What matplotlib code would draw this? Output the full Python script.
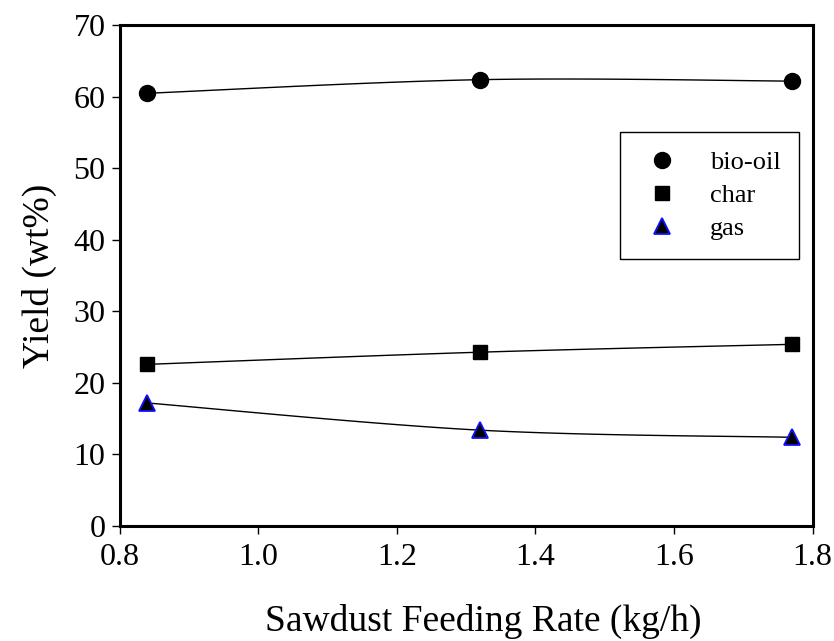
import numpy as np
import matplotlib
matplotlib.use("Agg")
import matplotlib.pyplot as plt
from matplotlib.lines import Line2D

plt.rcParams['font.family'] = ['Liberation Serif', 'DejaVu Serif']

# data
feed_rate = [0.84, 1.32, 1.77]
bio_oil = [60.5, 62.4, 62.2]
char = [22.6, 24.3, 25.4]
gas = [17.2, 13.4, 12.4]


def smooth_curve(x, y, n=60):
    """Excel-style smoothed line (Bezier through points, Catmull-Rom controls)."""
    pts = np.column_stack([x, y]).astype(float)
    padded = np.vstack([pts[0], pts, pts[-1]])
    out = []
    t = np.linspace(0, 1, n)[:, None]
    for i in range(1, len(padded) - 2):
        p0, p1, p2, p3 = padded[i - 1], padded[i], padded[i + 1], padded[i + 2]
        c1 = p1 + (p2 - p0) / 6
        c2 = p2 - (p3 - p1) / 6
        seg = ((1 - t) ** 3) * p1 + 3 * ((1 - t) ** 2) * t * c1 + 3 * (1 - t) * t ** 2 * c2 + t ** 3 * p2
        out.append(seg)
    curve = np.vstack(out)
    return curve[:, 0], curve[:, 1]


fig = plt.figure(figsize=(8.34, 6.41), dpi=100)
ax = fig.add_axes([0.1433, 0.1794, 0.8311, 0.7811])

for ys in (bio_oil, char, gas):
    cx, cy = smooth_curve(feed_rate, ys)
    ax.plot(cx, cy, color='black', lw=1.0, zorder=2)

ax.plot(feed_rate, bio_oil, 'o', ms=11.5, color='black', zorder=3)
ax.plot(feed_rate, char, 's', ms=10.5, color='black', zorder=3)
ax.plot(feed_rate, gas, '^', ms=11.5, mfc='black', mec='#1010ff', mew=1.3, zorder=3)

ax.set_xlim(0.8, 1.8)
ax.set_ylim(0, 70)
ax.set_xticks(np.arange(0.8, 1.81, 0.2))
ax.set_xticklabels(['0.8', '1.0', '1.2', '1.4', '1.6', '1.8'])
ax.set_yticks(range(0, 71, 10))

for side in ax.spines.values():
    side.set_linewidth(2.2)
    side.set_color('black')

ax.tick_params(axis='both', direction='out', length=6, width=1.0, labelsize=23, colors='black')
ax.tick_params(axis='x', pad=6)
ax.tick_params(axis='y', pad=4)

ax.set_xlabel('Sawdust Feeding Rate (kg/h)', fontsize=27)
ax.xaxis.set_label_coords(0.525, -0.155)
ax.set_ylabel('Yield (wt%)', fontsize=27)
ax.yaxis.set_label_coords(-0.09, 0.5)

handles = [
    Line2D([], [], ls='none', marker='o', ms=11.5, color='black'),
    Line2D([], [], ls='none', marker='s', ms=10.5, color='black'),
    Line2D([], [], ls='none', marker='^', ms=11.5, mfc='black', mec='#1010ff', mew=1.3),
]
leg = ax.legend(handles, ['bio-oil', 'char', 'gas'], loc='upper left',
                bbox_to_anchor=(0.722, 0.787), borderaxespad=0, fontsize=19,
                frameon=True, fancybox=False, edgecolor='black', framealpha=1,
                handletextpad=0.9, labelspacing=0.37, borderpad=0.7, handlelength=1.8)
leg.get_frame().set_linewidth(1.0)

fig.savefig('out.png', dpi=100)
